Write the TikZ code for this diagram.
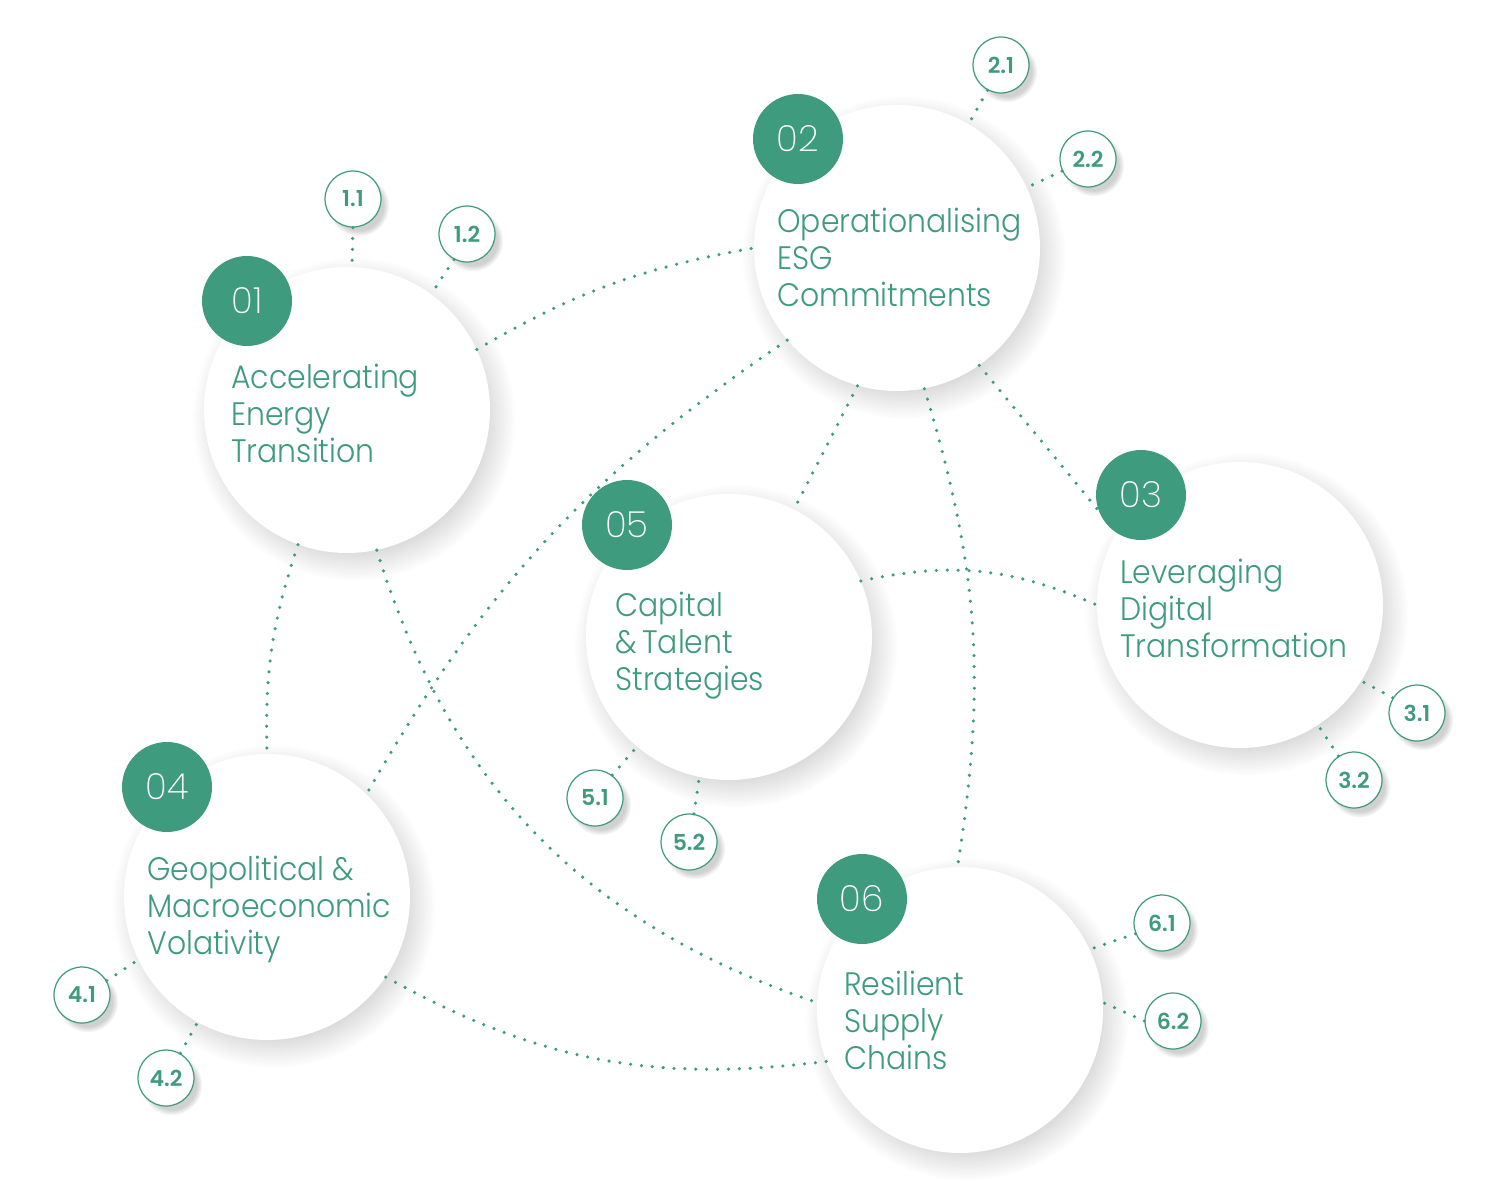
\documentclass[tikz,border=0pt]{standalone}
\usepackage{fontspec}
\setmainfont{Poppins Light}[BoldFont=Poppins SemiBold]
\newfontfamily\titlefont{Poppins Light}[FakeStretch=0.92]
\newfontfamily\numfont{Poppins ExtraLight}
\usetikzlibrary{shadows,fadings}
\definecolor{dg}{HTML}{3F9B7D}
\tikzset{
    topic/.style = {circle,
                    fill=white,
                    minimum size=5.72cm,
                    circular drop shadow={shadow xshift=.12cm,
                                          shadow yshift=-.16cm,
                                          shadow scale=1.13,
                                          opacity=.25,
                                          fill=black!60,
                                          path fading={circle with fuzzy edge 20 percent}}},
    badge/.style = {circle,
                    fill=dg,
                    text=white,
                    minimum size=1.8cm,
                    font={\numfont\fontsize{20.5}{22}\selectfont}},
    sub/.style =   {circle,
                    fill=white,
                    draw=dg,
                    line width=.7pt,
                    text=dg,
                    minimum size=1.12cm,
                    inner sep=0pt,
                    font={\fontsize{12.5}{14}\selectfont\bfseries},
                    circular drop shadow={shadow xshift=.1cm,
                                          shadow yshift=-.12cm,
                                          shadow scale=1.1,
                                          opacity=.3,
                                          fill=black!60,
                                          path fading={circle with fuzzy edge 20 percent}}},
    txt/.style =   {anchor=north west,
                    align=left,
                    inner sep=0pt,
                    text=dg,
                    font={\titlefont\fontsize{18.5}{21}\selectfont}},
    link/.style =  {draw=dg,
                    line width=2pt,
                    line cap=round,
                    dash pattern=on 0pt off 6.2pt}}
\begin{document}
\begin{tikzpicture}[x=0.02cm,y=-0.02cm]
    \useasboundingbox (0,0) rectangle (1500,1200);
    % topics
    \node[topic] (c1) at (347,410)  {};
    \node[topic] (c2) at (897,248)  {};
    \node[topic] (c3) at (1240,605) {};
    \node[topic] (c4) at (267,897)  {};
    \node[topic] (c5) at (729,637)  {};
    \node[topic] (c6) at (960,1010) {};
    % numbers
    \node[badge] (b1) at (247,301) {01};
    \node[badge] (b2) at (798,139) {02};
    \node[badge] (b3) at (1141,495) {03};
    \node[badge] (b4) at (167,787) {04};
    \node[badge] (b5) at (627,525) {05};
    \node[badge] (b6) at (862,899) {06};
    % titles
    \node[txt] (t1) at (231,364) {Accelerating\\Energy\\Transition};
    \node[txt] (t2) at (777,208) {Operationalising\\ESG\\Commitments};
    \node[txt] (t3) at (1120,559) {Leveraging\\Digital\\Transformation};
    \node[txt] (t4) at (147,856) {Geopolitical \&\\Macroeconomic\\Volativity};
    \node[txt] (t5) at (615,592) {Capital\\\&\,Talent\\Strategies};
    \node[txt] (t6) at (844,971) {Resilient\\Supply\\Chains};
    % sub topics
    \node[sub] (s11) at (353,199)  {1.1};
    \node[sub] (s12) at (467,234)  {1.2};
    \node[sub] (s21) at (1001,65)  {2.1};
    \node[sub] (s22) at (1088,159) {2.2};
    \node[sub] (s31) at (1417,713) {3.1};
    \node[sub] (s32) at (1354,780) {3.2};
    \node[sub] (s41) at (82,995)   {4.1};
    \node[sub] (s42) at (166,1078) {4.2};
    \node[sub] (s51) at (595,798)  {5.1};
    \node[sub] (s52) at (689,842)  {5.2};
    \node[sub] (s61) at (1162,923) {6.1};
    \node[sub] (s62) at (1173,1021) {6.2};

    \path [link]    (c1.25)  edge [bend left=10]  (c2.180)
                    (c1.250) edge [bend right=10] (c4.90)
                    (c1.282) edge [bend right=27] (c6.177)
                    (c2.220) edge [bend right=13] (c4.46)
                    (c2.254) edge []              (c5.63)
                    (c2.281) edge [bend left=13]  (c6.91)
                    (c2.305) edge []              (b3.200)
                    (c5.23)  edge [bend left=18]  (c3.180)
                    (c4.326) edge [bend right=18] (c6.201);

    \path [link]    (s11.270) edge (c1.88)
                    (s12.243) edge (c1.54)
                    (s21.242) edge (c2.60)
                    (s22.205) edge (c2.25)
                    (s31.148) edge (c3.328)
                    (s32.123) edge (c3.303)
                    (s41.30)  edge (c4.206)
                    (s42.60)  edge (c4.241)
                    (s51.53)  edge (c5.230)
                    (s52.80)  edge (c5.258)
                    (s61.202) edge (c6.25)
                    (s62.180) edge (c6.3);
\end{tikzpicture}
\end{document}
